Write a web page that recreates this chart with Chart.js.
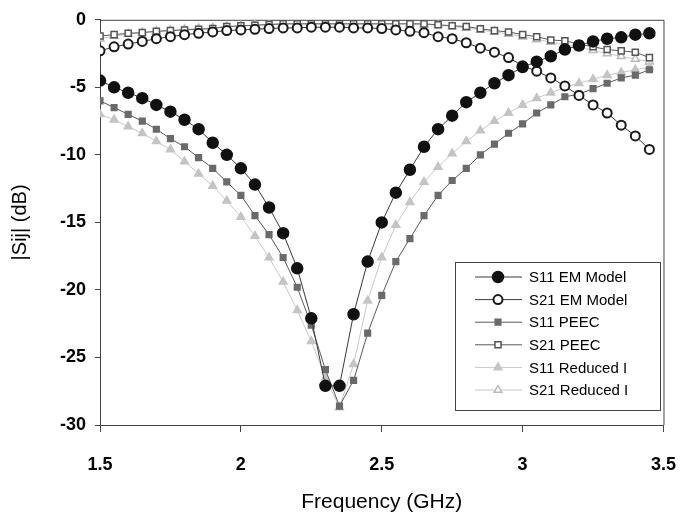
<!DOCTYPE html>
<html><head><meta charset="utf-8">
<script src="https://cdn.jsdelivr.net/npm/chart.js@4.4.1/dist/chart.umd.min.js"></script>
<style>html,body{margin:0;padding:0;background:#fff;} #wrap{width:698px;height:524px;position:relative;}</style>
</head><body><div id="wrap"><canvas id="c" width="698" height="524"></canvas></div>
<script>
const freq = [1.5,1.55,1.6,1.65,1.7,1.75,1.8,1.85,1.9,1.95,2.0,2.05,2.1,2.15,2.2,2.25,2.3,2.35,2.4,2.45,2.5,2.55,2.6,2.65,2.7,2.75,2.8,2.85,2.9,2.95,3.0,3.05,3.1,3.15,3.2,3.25,3.3,3.35,3.4,3.45];
const s11EM = [-4.5,-5.0,-5.4,-5.8,-6.3,-6.8,-7.4,-8.1,-9.1,-10.0,-11.0,-12.2,-13.9,-15.8,-18.4,-22.1,-27.1,-27.1,-21.8,-17.9,-15.0,-12.8,-11.1,-9.4,-8.1,-7.1,-6.1,-5.4,-4.7,-4.1,-3.5,-3.1,-2.7,-2.2,-1.9,-1.6,-1.4,-1.3,-1.1,-1.0];
const s21EM = [-2.3,-2.0,-1.8,-1.6,-1.4,-1.25,-1.1,-1.0,-0.9,-0.8,-0.75,-0.7,-0.65,-0.6,-0.6,-0.55,-0.55,-0.55,-0.6,-0.6,-0.65,-0.75,-0.85,-0.95,-1.25,-1.4,-1.7,-2.1,-2.4,-2.8,-3.4,-3.8,-4.3,-4.9,-5.6,-6.3,-6.9,-7.8,-8.6,-9.6];
const s11PEEC = [-6.0,-6.5,-7.0,-7.5,-8.1,-8.8,-9.4,-10.2,-11.0,-12.0,-13.0,-14.5,-15.9,-17.6,-19.8,-22.6,-25.9,-28.6,-26.7,-23.2,-20.4,-17.9,-16.2,-14.5,-13.0,-11.9,-11.0,-10.0,-9.2,-8.4,-7.7,-6.9,-6.3,-5.7,-5.5,-5.1,-4.7,-4.3,-4.1,-3.7];
const s21PEEC = [-1.2,-1.1,-1.0,-0.95,-0.85,-0.8,-0.75,-0.7,-0.65,-0.5,-0.45,-0.4,-0.35,-0.3,-0.3,-0.3,-0.3,-0.3,-0.3,-0.3,-0.3,-0.3,-0.3,-0.3,-0.37,-0.44,-0.5,-0.66,-0.8,-0.9,-1.1,-1.25,-1.5,-1.55,-1.8,-2.0,-2.2,-2.3,-2.4,-2.8];
const s11Red = [-7.0,-7.4,-7.9,-8.4,-9.0,-9.6,-10.5,-11.4,-12.3,-13.4,-14.6,-16.0,-17.6,-19.4,-21.5,-23.8,-26.5,-28.7,-25.5,-20.8,-17.6,-15.2,-13.5,-12.0,-10.9,-9.9,-9.0,-8.2,-7.5,-6.9,-6.3,-5.8,-5.4,-5.0,-4.7,-4.4,-4.1,-3.9,-3.7,-3.5];
const s21Red = [-1.4,-1.2,-1.05,-0.95,-0.85,-0.8,-0.7,-0.65,-0.6,-0.5,-0.45,-0.4,-0.35,-0.3,-0.3,-0.3,-0.3,-0.3,-0.3,-0.3,-0.3,-0.3,-0.3,-0.35,-0.4,-0.5,-0.6,-0.75,-0.9,-1.05,-1.25,-1.45,-1.65,-1.85,-2.05,-2.25,-2.5,-2.7,-2.9,-3.1];
const seriesNames = ['S11 EM Model','S21 EM Model','S11 PEEC','S21 PEEC','S11 Reduced I','S21 Reduced I'];
const xTicks = [1.5,2,2.5,3,3.5];
const xTickLabels = ['1.5','2','2.5','3','3.5'];
const yTicks = [0,-5,-10,-15,-20,-25,-30];

const FONT = "'Liberation Sans', Arial, sans-serif";
const pts = v => v.map((y,i)=>({x:freq[i], y}));
function ds(label, data, style){
  return Object.assign({label, data: pts(data), showLine:true, tension:0, borderWidth:1, pointBorderWidth:1.5}, style);
}
const datasets = [
  ds(seriesNames[0], s11EM, {borderColor:'#3a3a3a', pointStyle:'circle', pointRadius:5.5, pointBackgroundColor:'#111', pointBorderColor:'#111'}),
  ds(seriesNames[1], s21EM, {borderColor:'#3a3a3a', pointStyle:'circle', pointRadius:4.5, pointBackgroundColor:'#fff', pointBorderColor:'#1a1a1a', pointBorderWidth:2}),
  ds(seriesNames[2], s11PEEC, {borderColor:'#5a5a5a', pointStyle:'rect', pointRadius:4, pointBackgroundColor:'#6a6a6a', pointBorderColor:'#6a6a6a'}),
  ds(seriesNames[3], s21PEEC, {borderColor:'#5a5a5a', pointStyle:'rect', pointRadius:4.3, pointBackgroundColor:'#fff', pointBorderColor:'#555'}),
  ds(seriesNames[4], s11Red, {borderColor:'#c8c8c8', pointStyle:'triangle', pointRadius:4.5, pointBackgroundColor:'#c4c4c4', pointBorderColor:'#c4c4c4'}),
  ds(seriesNames[5], s21Red, {borderColor:'#c8c8c8', pointStyle:'triangle', pointRadius:4.5, pointBackgroundColor:'#fff', pointBorderColor:'#bbb'})
];

const framePlugin = {
  id:'frame',
  beforeDatasetsDraw(chart){
    const {ctx, chartArea:a} = chart;
    ctx.save(); ctx.strokeStyle='#444'; ctx.lineWidth=1;
    ctx.beginPath();
    ctx.moveTo(a.left, a.top+0.5); ctx.lineTo(a.right+0.5, a.top+0.5); ctx.lineTo(a.right+0.5, a.bottom);
    ctx.stroke(); ctx.restore();
  }
};
const legendPlugin = {
  id:'boxLegend',
  afterDraw(chart){
    const ctx = chart.ctx;
    const bx=455.5, by=262.5, bw=205, bh=148;
    ctx.save();
    ctx.fillStyle='#fff'; ctx.fillRect(bx,by,bw,bh);
    ctx.strokeStyle='#444'; ctx.lineWidth=1; ctx.strokeRect(bx,by,bw,bh);
    const rowH = 22.6, y0 = 277;
    const draw = Chart.helpers && Chart.helpers.drawPoint;
    chart.data.datasets.forEach((d,i)=>{
      const y = y0 + i*rowH;
      ctx.strokeStyle = d.borderColor; ctx.lineWidth = 1;
      ctx.beginPath(); ctx.moveTo(475,y); ctx.lineTo(522,y); ctx.stroke();
      if (draw){
        ctx.fillStyle = d.pointBackgroundColor; ctx.strokeStyle = d.pointBorderColor; ctx.lineWidth = d.pointBorderWidth;
        draw(ctx, {pointStyle:d.pointStyle, radius:d.pointRadius, rotation:0, borderWidth:d.pointBorderWidth}, 498, y);
      }
      ctx.fillStyle='#000'; ctx.font = '15px ' + FONT; ctx.textAlign='left'; ctx.textBaseline='middle';
      ctx.fillText(d.label, 529, y+1);
    });
    ctx.restore();
  }
};

new Chart(document.getElementById('c'), {
  type:'scatter',
  data:{datasets},
  plugins:[framePlugin, legendPlugin],
  options:{
    responsive:false, animation:false, devicePixelRatio:1,
    layout:{padding:{top:18,right:19,left:0,bottom:0}},
    plugins:{legend:{display:false}, tooltip:{enabled:false}},
    scales:{
      x:{type:'linear', min:1.5, max:3.5,
        afterBuildTicks(s){ s.ticks = xTicks.map(v=>({value:v})); },
        afterFit(s){ s.height = 99; },
        grid:{drawOnChartArea:false, drawTicks:true, tickLength:7, color:'#444'},
        border:{display:true, color:'#444', width:1},
        ticks:{padding:22, color:'#000', font:{family:FONT, size:18, weight:'bold'},
          callback:(v,i)=>xTickLabels[i]},
        title:{display:true, text:'Frequency (GHz)', color:'#000', font:{family:FONT, size:21}, padding:{top:0,bottom:9}}
      },
      y:{type:'linear', min:-30, max:0,
        afterBuildTicks(s){ s.ticks = yTicks.map(v=>({value:v})); },
        afterFit(s){ s.width = 100; },
        grid:{drawOnChartArea:false, drawTicks:true, tickLength:5, color:'#444'},
        border:{display:true, color:'#444', width:1},
        ticks:{padding:9, color:'#000', font:{family:FONT, size:18, weight:'bold'}},
        title:{display:true, text:'|Sij| (dB)', color:'#000', font:{family:FONT, size:20}, padding:{top:8,bottom:0}}
      }
    }
  }
});
</script></body></html>
